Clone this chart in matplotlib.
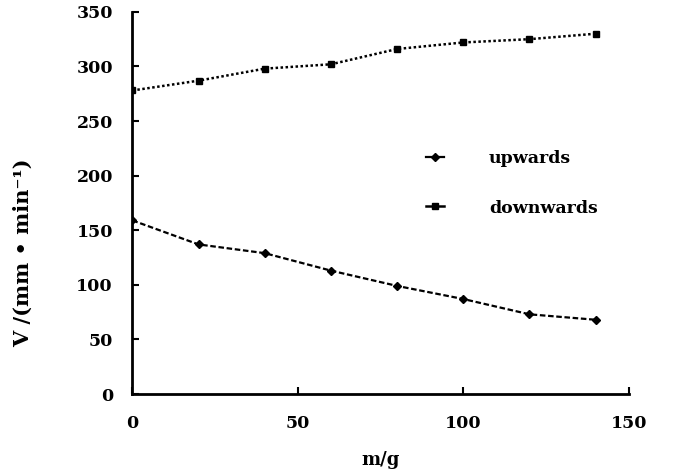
import matplotlib
matplotlib.use("Agg")
import matplotlib.pyplot as plt

# masa (g) y velocidad (mm/min)
masa = [0, 20, 40, 60, 80, 100, 120, 140]
vel_arriba = [159, 137, 129, 113, 99, 87, 73, 68]
vel_abajo = [278, 287, 298, 302, 316, 322, 325, 330]

plt.rcParams['font.family'] = ['DejaVu Serif']
plt.rcParams['font.weight'] = 'bold'
plt.rcParams['axes.labelweight'] = 'bold'

fig = plt.figure(figsize=(6.79, 4.75), dpi=100)
ax = fig.add_axes([0.195, 0.1705, 0.731, 0.8045])

ax.plot(masa, vel_arriba, color='black', linestyle=(0, (2.5, 1.2)), linewidth=1.6,
        marker='D', markersize=4, label='upwards')
ax.plot(masa, vel_abajo, color='black', linestyle=(0, (1, 1)), linewidth=1.8,
        marker='s', markersize=5, label='downwards')

ax.set_xlim(0, 150)
ax.set_ylim(0, 350)
ax.set_xticks([0, 50, 100, 150])
ax.set_yticks(range(0, 351, 50))
ax.tick_params(direction='in', length=5, width=1.5, labelsize=12.5)
ax.tick_params(axis='x', pad=15)
ax.tick_params(axis='y', pad=14)
for lado in ['top', 'right']:
    ax.spines[lado].set_visible(False)
for lado in ['left', 'bottom']:
    ax.spines[lado].set_linewidth(2.0)

ax.set_xlabel('m/g', fontsize=13, labelpad=14)
ax.set_ylabel('V /(mm \u2022 min\u207b\u00b9)', fontsize=15)
ax.yaxis.set_label_coords(-0.2, 0.37)

leg = ax.legend(loc='center', bbox_to_anchor=(0.765, 0.552), frameon=False,
                fontsize=12.5, handlelength=1.0, handletextpad=2.6, labelspacing=1.9)
for linea in leg.get_lines():
    linea.set_linestyle('-')

fig.savefig('out.png', dpi=100)
